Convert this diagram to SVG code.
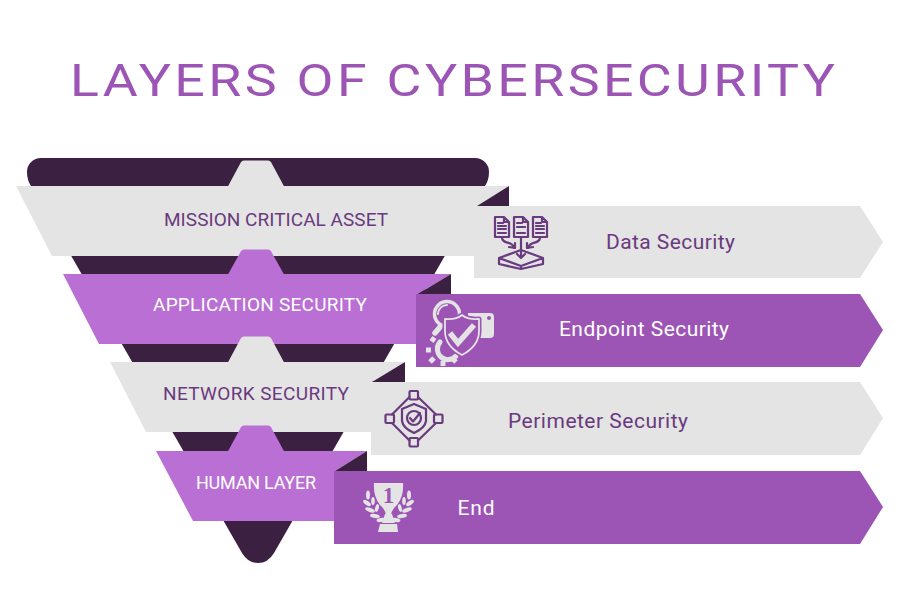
<svg xmlns="http://www.w3.org/2000/svg" width="900" height="600" viewBox="0 0 900 600">
<style>
.d{fill:#3b2042}.g{fill:#e4e4e4}.l{fill:#b96fd3}.p{fill:#9c54b5}
text{font-family:Roboto,"Noto Sans","Liberation Sans",sans-serif}
.t{font-size:19px;text-anchor:middle}
.r{font-size:21px}
.a{fill:#6a3a7e}.w{fill:#fff}
.i{fill:none;stroke:#6a3a7e;stroke-width:2.2;stroke-linejoin:round;stroke-linecap:round}
.j{fill:none;stroke:#e4e4e4;stroke-width:3;stroke-linejoin:round;stroke-linecap:round}
.f{fill:#e4e4e4}
</style>
<rect width="900" height="600" fill="#fff"/>
<text transform="translate(452.500 96) scale(1.22 1)" text-anchor="middle" font-size="44" font-weight="400" textLength="627" lengthAdjust="spacing" fill="#9c54b5">LAYERS OF CYBERSECURITY</text>
<g id="funnel"><path class="d" d="M41 158H475A14 14 0 0 1 489 172Q489 180 485 186L274 553Q268 563 258 563Q248 563 242 553L31 186Q27 180 27 172A14 14 0 0 1 41 158Z"/></g>
<g id="layer-mission">
<path class="g" stroke="#e4e4e4" stroke-width="7" stroke-linejoin="round" d="M230 190L244 164H268L282 190Z"/>
<path class="g" d="M16 186H509L477 206H474V256H52Z"/>
<path class="d" d="M509 186V206H477Z"/>
<text class="t a" x="276" y="225.500" textLength="224">MISSION CRITICAL ASSET</text>
</g>
<g id="layer-application">
<path class="l" stroke="#b96fd3" stroke-width="7" stroke-linejoin="round" d="M230 278L244 253H268L282 278Z"/>
<path class="l" d="M63 274H451L418 294H416V344H99Z"/>
<path class="d" d="M451 274V294H418Z"/>
<text class="t w" x="260" y="310.500" textLength="214">APPLICATION SECURITY</text>
</g>
<g id="layer-network">
<path class="g" stroke="#e4e4e4" stroke-width="7" stroke-linejoin="round" d="M230 366L244 340H268L282 366Z"/>
<path class="g" d="M110 362H405L372 382H371V432H146Z"/>
<path class="d" d="M405 362V382H372Z"/>
<text class="t a" x="256" y="399.500" textLength="186">NETWORK SECURITY</text>
</g>
<g id="layer-human">
<path class="l" stroke="#b96fd3" stroke-width="7" stroke-linejoin="round" d="M230 455L244 429H268L282 455Z"/>
<path class="l" d="M156 451H367L335 471H334V521H193Z"/>
<path class="d" d="M367 451V471H335Z"/>
<text class="t w" x="256" y="488.500" textLength="120" style="font-size:18px">HUMAN LAYER</text>
</g>
<g id="data-security">
<path class="g" d="M474 206H860L883 242L860 278H474Z"/>
<text class="t a r" x="670.500" y="248.500" textLength="129">Data Security</text>
<g class="i">
<path d="M495 217H504L509 222V237H495Z M504 217V222H509 M498 223H503 M498 226H506 M498 229H506 M498 233H506"/>
<path d="M514 217H523L528 222V237H514Z M523 217V222H528 M517 223H522 M517 227H525 M517 233H525"/>
<path d="M533 217H542L547 222V237H533Z M542 217V222H547 M536 223H541 M536 226H544 M536 229H544 M536 233H544"/>
<path d="M521 237V258M517 254L521 258L525 254M502 238C503 245 512 240 514 248M509 247L515 248L515 243M540 238C539 245 530 240 528 248M533 247L527 248L527 243"/>
<path d="M499 258L521 250L543 258L521 266ZM499 258V264L521 269L543 264V258M521 266V269"/>
</g>
</g>
<g id="endpoint-security">
<path class="p" d="M416 294H860L883 330L860 367H416Z"/>
<text class="t w r" x="644" y="336" textLength="170">Endpoint Security</text>
<path class="f" d="M468 313H490Q494 313 494 317V334Q494 338 490 338H468Z"/>
<circle cx="489" cy="318" r="2" fill="#9c54b5"/>
<circle cx="447" cy="314" r="12.500" fill="#9c54b5" stroke="#e4e4e4" stroke-width="3.500"/>
<path class="j" style="stroke-width:2" d="M438 314A9 9 0 0 1 447 305"/>
<path class="j" style="stroke-width:5.500" d="M435 333L440 327"/>
<path class="j" style="stroke-width:5" d="M440 342A10 10 0 1 0 456 356"/>
<path class="j" style="stroke-width:5;stroke-linecap:butt" d="M435 341L431 338M431 350H426M434 358L430 362M443 361V366M452 358L456 362"/>
<path fill="#9c54b5" stroke="#9c54b5" stroke-width="5" stroke-linejoin="round" d="M445 319Q456 320 462 315Q468 320 479 319V331Q479 346 462 355Q445 346 445 331Z"/>
<path fill="none" stroke="#e4e4e4" stroke-width="1.800" stroke-linejoin="round" d="M445 319Q456 320 462 315Q468 320 479 319V331Q479 346 462 355Q445 346 445 331Z"/>
<path d="M450 333L458 343L474 325" fill="none" stroke="#e4e4e4" stroke-width="5.500"/>
</g>
<g id="perimeter-security">
<path class="g" d="M371 382H860L883 418L860 455H371Z"/>
<text class="t a r" x="598" y="428" textLength="180">Perimeter Security</text>
<g class="i">
<rect x="409.500" y="391" width="8.500" height="8.500" rx="1"/>
<rect x="409.500" y="438" width="8.500" height="8.500" rx="1"/>
<rect x="385.500" y="414.500" width="8.500" height="8.500" rx="1"/>
<rect x="434" y="414.500" width="8.500" height="8.500" rx="1"/>
<path d="M409.500 397L392 414.500M418 397L436 414.500M392 423L409.500 440.500M436 423L418 440.500"/>
<path d="M414 404L402 409V421Q403 428 414 433Q425 428 426 421V409Z"/>
<circle cx="414" cy="418" r="7"/>
<path d="M410 418L413 421.500L420 413"/>
</g>
</g>
<g id="end">
<path class="p" d="M334 471H860L883 507L860 544H334Z"/>
<text class="t w r" x="476" y="515" textLength="37">End</text>
<path class="f" d="M374 483H403Q404 496 397 505Q391 510 391 516H386Q386 510 380 505Q373 496 374 483Z"/>
<path class="f" d="M385 514H392L395 523H382ZM380 524H397L398 532H378Z"/>
<text x="388.500" y="503" font-size="23" font-weight="bold" text-anchor="middle" fill="#9c54b5" style="font-family:'Liberation Serif',serif">1</text>
<g class="f">
<ellipse cx="368" cy="495" rx="2" ry="4.500"/><ellipse cx="409" cy="495" rx="2" ry="4.500"/>
<ellipse cx="367" cy="503" rx="2" ry="4.500" transform="rotate(-55 367 503)"/><ellipse cx="410" cy="503" rx="2" ry="4.500" transform="rotate(55 410 503)"/>
<ellipse cx="370" cy="510" rx="2" ry="5" transform="rotate(-70 370 510)"/><ellipse cx="407" cy="510" rx="2" ry="5" transform="rotate(70 407 510)"/>
<ellipse cx="375" cy="516" rx="2" ry="5" transform="rotate(-80 375 516)"/><ellipse cx="402" cy="516" rx="2" ry="5" transform="rotate(80 402 516)"/>
<ellipse cx="381" cy="520" rx="2" ry="4.500" transform="rotate(-100 381 520)"/><ellipse cx="396" cy="520" rx="2" ry="4.500" transform="rotate(100 396 520)"/>
<ellipse cx="373" cy="501" rx="1.800" ry="4"/><ellipse cx="404" cy="501" rx="1.800" ry="4"/>
<ellipse cx="377" cy="508" rx="1.800" ry="4" transform="rotate(15 377 508)"/><ellipse cx="400" cy="508" rx="1.800" ry="4" transform="rotate(-15 400 508)"/>
</g>
</g>
</svg>
